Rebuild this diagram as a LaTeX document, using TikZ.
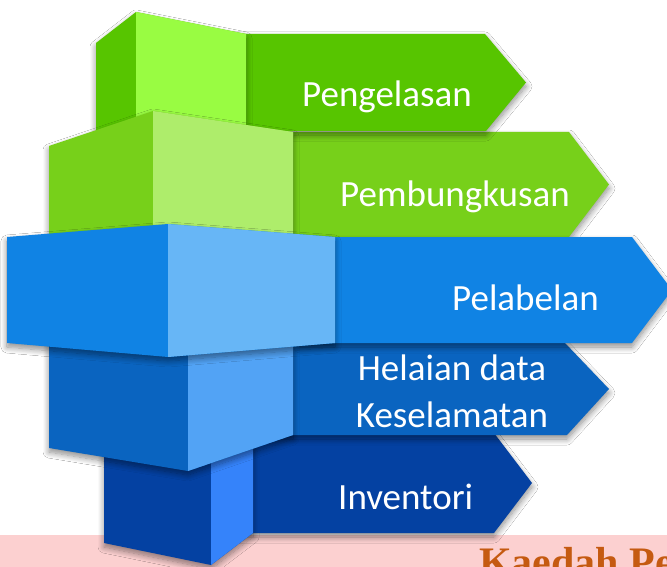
\documentclass[tikz,border=0pt]{standalone}
\usepackage{fontspec}
\setmainfont{Carlito}
\newfontfamily\headfont{Liberation Serif}
\usepackage{xcolor}
\usepackage{tikz}
\usetikzlibrary{shadows.blur}

\definecolor{grnA}{HTML}{57C500}
\definecolor{grnAlt}{HTML}{99FC42}
\definecolor{grnB}{HTML}{77D01A}
\definecolor{grnBlt}{HTML}{AEED6B}
\definecolor{bluC}{HTML}{1083E4}
\definecolor{bluClt}{HTML}{67B6F6}
\definecolor{bluD}{HTML}{0A64C0}
\definecolor{bluDlt}{HTML}{52A3F5}
\definecolor{bluE}{HTML}{0441A2}
\definecolor{bluElt}{HTML}{3583FA}
\definecolor{pinkbar}{HTML}{FCD0D0}
\definecolor{rust}{HTML}{C55A11}

\begin{document}
\begin{tikzpicture}[x=1pt,y=-1pt,line join=round]
\tikzstyle{softshadow}=[blur shadow={shadow xshift=0pt,shadow yshift=-4pt,shadow blur radius=6pt,shadow blur steps=10,shadow opacity=45}]
\tikzstyle{tagtext}=[anchor=base west,inner sep=0pt,text=white,font=\fontsize{37}{47}\selectfont]

\clip (0,0) rectangle (667,567);
\fill[white] (0,0) rectangle (667,567);

% strip at the bottom
\fill[pinkbar] (0,535) rectangle (667,567);
\node[anchor=base west,inner sep=0pt,text=rust,font=\headfont\bfseries\fontsize{42}{46}\selectfont] (kaedah) at (479,576) {Kaedah Pe};

% level 5
\fill[softshadow,fill=bluE] (230,433) -- (494,433) -- (532,483) -- (494,533) -- (230,533) -- cycle;
\fill[softshadow,fill=bluE] (104,423) -- (211,401) -- (253,433) -- (253,533) -- (211,565) -- (104,543) -- cycle;
\fill[bluElt] (211,401) -- (253,433) -- (253,533) -- (211,565) -- cycle;

% level 4
\fill[softshadow,fill=bluD] (250,343) -- (565,343) -- (609,389) -- (567,435) -- (250,435) -- cycle;
\fill[softshadow,fill=bluD] (49,330) -- (188,307) -- (293,343) -- (293,435) -- (188,471) -- (49,448) -- cycle;
\fill[bluDlt] (188,307) -- (293,343) -- (293,435) -- (188,471) -- cycle;

% level 1 and 2
\fill[softshadow,fill=grnB] (250,132) -- (569,132) -- (609,184.5) -- (569,237) -- (250,237) -- cycle;
\fill[softshadow,fill=grnA] (200,34) -- (485,34) -- (526,82.5) -- (486,131) -- (200,131) -- cycle;
\fill[softshadow,fill=grnA] (96,43) -- (136,12) -- (246,34) -- (246,131) -- (136,160) -- (96,136) -- cycle;
\fill[grnAlt] (136,12) -- (246,34) -- (246,131) -- (136,160) -- cycle;
\fill[softshadow,fill=grnB] (49,146) -- (153,111) -- (293,132) -- (293,237) -- (153,258) -- (49,240) -- cycle;
\fill[grnBlt] (153,111) -- (293,132) -- (293,237) -- (153,258) -- cycle;

% level 3
\fill[softshadow,fill=bluC] (300,237) -- (632,237) -- (672,290) -- (632,343) -- (300,343) -- cycle;
\fill[softshadow,fill=bluC] (7,237) -- (168,224) -- (335,237) -- (335,343) -- (168,357) -- (7,343) -- cycle;
\fill[bluClt] (168,224) -- (335,237) -- (335,343) -- (168,357) -- cycle;

% texts
\node[tagtext] (pengelasan) at (302,107) {Pengelasan};
\node[tagtext] (pembungkusan) at (340,207) {Pembungkusan};
\node[tagtext] (pelabelan) at (452,310) {Pelabelan};
\node[tagtext,anchor=base,align=center] (helaian) at (452,427) {Helaian data\\Keselamatan};
\node[tagtext] (inventori) at (338,509) {Inventori};
\end{tikzpicture}
\end{document}
